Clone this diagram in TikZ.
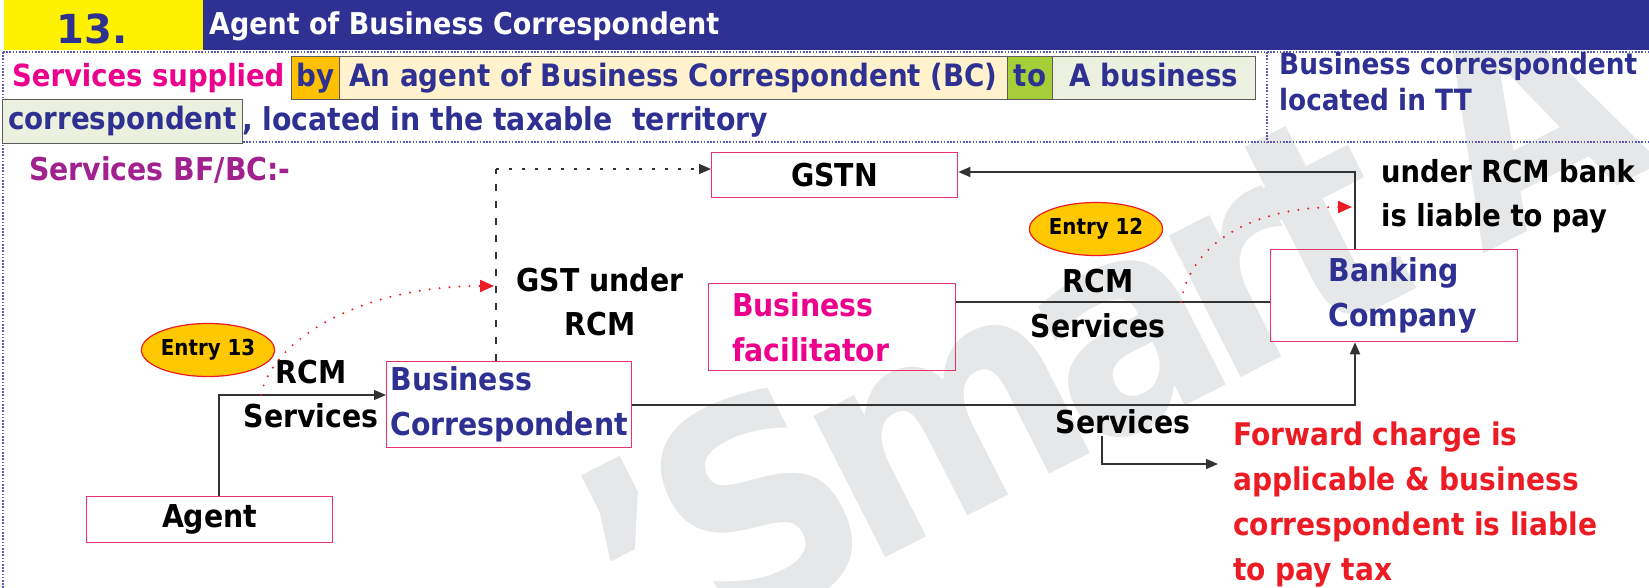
\documentclass[tikz,border=0pt]{standalone}
\usepackage{fontspec}
\usetikzlibrary{arrows.meta,shapes.geometric}
\newfontfamily\cf{DejaVu Sans Condensed}
\newfontfamily\plainf{DejaVu Sans}
\definecolor{navy}{HTML}{2E3192}
\definecolor{hdr}{HTML}{2E3192}
\definecolor{yel}{HTML}{FFF200}
\definecolor{mag}{HTML}{EC008C}
\definecolor{purp}{HTML}{A1218E}
\definecolor{rd}{HTML}{ED1C24}
\definecolor{pk}{HTML}{E6336B}
\definecolor{gold}{HTML}{FFC800}
\definecolor{byc}{HTML}{FFC000}
\definecolor{cream}{HTML}{FFF2CC}
\definecolor{toc}{HTML}{A6CE39}
\definecolor{lgreen}{HTML}{EBF1DE}
\definecolor{dotb}{HTML}{5A5AB0}
\definecolor{wm}{HTML}{E6E7E8}
\definecolor{ln}{HTML}{333333}
\begin{document}
\begin{tikzpicture}[x=1pt,y=-1pt,
  txt/.style={font=\cf\bfseries\fontsize{31.5}{45}\selectfont, inner sep=0pt},
  pbox/.style={txt, draw=pk, line width=1.3pt, inner sep=0pt, anchor=north west},
  hbox/.style={draw=ln!80, line width=1pt, inner sep=0pt, anchor=north west, font=\cf\bfseries\fontsize{30.8}{40}\selectfont, text height=24pt, text depth=7pt, text=navy},
  conn/.style={draw=ln, line width=1.3pt},
  tip/.style={-{Triangle[length=12pt,width=10pt]}},
  entry/.style={ellipse, draw=rd, line width=1.2pt, fill=gold, minimum width=116pt, minimum height=53pt, inner sep=0pt, font=\cf\bfseries\fontsize{22}{24}\selectfont},
  dotline/.style={draw=dotb, line width=1.6pt, dash pattern=on 1.6pt off 1.6pt},
  reddot/.style={draw=rd, line width=2.2pt, dash pattern=on 0pt off 10pt, line cap=round, -{Triangle[length=14pt,width=12pt,fill=rd]}}
]
\useasboundingbox (0,0) rectangle (1649,588);
\fill[white] (0,0) rectangle (1649,588);
% watermark
\begin{scope}
\clip (0,0) rectangle (1649,588);
\node[font=\cf\bfseries\fontsize{290}{290}\selectfont, text=wm, anchor=base west, inner sep=0pt, rotate=27] (wmark) at (651,678) {’\kern-20pt S\kern-25pt m\kern-25pt a\kern-25pt r\kern-25pt t\kern65pt A};
\end{scope}
% header
\node[fill=yel, anchor=north west, minimum width=199pt, minimum height=50pt, inner sep=0pt] (numbox) at (4,0) {};
\node[font=\plainf\bfseries\fontsize{40}{40}\selectfont, text=navy, anchor=base, inner sep=0pt] (num) at (92,44) {13.};
\node[fill=hdr, anchor=north west, minimum width=1446pt, minimum height=50pt, inner sep=0pt] (hbar) at (203,0) {};
\node[txt, font=\cf\bfseries\fontsize{30}{30}\selectfont, text=white, anchor=base west] (title) at (209,35) {Agent of Business Correspondent};
% dotted frame
\draw[dotline] (3,52) -- (1649,52);
\draw[dotline] (3,142) -- (1649,142);
\draw[dotline] (1267,52) -- (1267,142);
\draw[dotline] (3,52) -- (3,588);
% line 1
\node[txt, font=\cf\bfseries\fontsize{30.5}{40}\selectfont, text=mag, anchor=base west] (svcs) at (12,87) {Services supplied};
\node[hbox, fill=byc, minimum width=48pt, minimum height=43pt] (by) at (291,56) {by};
\node[hbox, fill=cream, minimum width=668pt, minimum height=43pt] (agentof) at (339,56) {An agent of Business Correspondent (BC)};
\node[hbox, fill=toc, minimum width=45pt, minimum height=43pt] (to) at (1007,56) {to};
\node[hbox, fill=lgreen, minimum width=203pt, minimum height=43pt] (abiz) at (1052,56) {A business};
% line 2
\node[hbox, fill=lgreen, minimum width=240pt, minimum height=44pt] (corr) at (2,99) {correspondent};
\node[txt, font=\cf\bfseries\fontsize{31.5}{40}\selectfont, text=navy, anchor=base west] (loc) at (242,131) {, located in the taxable\ \ territory};
\node[txt, font=\cf\bfseries\fontsize{29.3}{36}\selectfont, text=navy, anchor=base west, align=left] (bctt) at (1279,111) {Business correspondent\\located in TT};
% lower section
\node[txt, text=purp, anchor=base west] (bfbc) at (29,181) {Services BF/BC:-};
\node[pbox, minimum width=246pt, minimum height=45pt] (gstn) at (711,152) {GSTN};
\node[pbox, minimum width=245pt, minimum height=86pt, align=left, text=navy] (bc) at (386,361) {Business\\Correspondent};
\node[pbox, minimum width=247pt, minimum height=87pt, text width=200pt, align=left, text=mag] (bf) at (708,283) {Business\\facilitator};
\node[pbox, minimum width=247pt, minimum height=92pt, text width=131pt, align=left, text=navy] (bank) at (1270,249) {Banking\\Company};
\node[pbox, minimum width=246pt, minimum height=46pt] (agent) at (86,496) {Agent};
\node[entry] (e12) at (1096,229) {Entry 12};
\node[entry] (e13) at (208,350) {Entry 13};
\node[txt, font=\cf\bfseries\fontsize{31.5}{44}\selectfont, anchor=base, align=center] (gstlbl) at (600,335) {GST under\\RCM};
\node[txt, anchor=base] (rcm1) at (311,383) {RCM};
\node[txt, anchor=base] (svc1) at (311,427) {Services};
\node[txt, anchor=base] (rcm2) at (1098,292) {RCM};
\node[txt, anchor=base] (svc2) at (1098,337) {Services};
\node[txt, anchor=base] (svc3) at (1123,433) {Services};
\node[txt, font=\cf\bfseries\fontsize{30.4}{44}\selectfont, anchor=base west, align=left] (rcmbank) at (1381,227) {under RCM bank\\is liable to pay};
\node[txt, font=\cf\bfseries\fontsize{31.2}{45}\selectfont, text=rd, anchor=base west, align=left] (fwd) at (1233,580) {Forward charge is\\applicable \& business\\correspondent is liable\\to pay tax};
% connectors
\coordinate (cA) at (219,395);
\draw[conn, tip] (cA |- agent.north) -- (cA) -- (cA -| bc.west);
\coordinate (cB) at (1355,172);
\draw[conn, tip] (cB |- bank.north) -- (cB) -- (cB -| gstn.east);
\draw[conn, line width=1.8pt, tip] (bc.east) -| (cB |- bank.south);
\coordinate (cC) at (1181,302);
\draw[conn] (bf.east |- cC) -- (bank.west |- cC);
\coordinate (cD) at (496,169);
\draw[conn, dash pattern=on 7pt off 10pt] (bc.north -| cD) -- (cD);
\draw[conn, dash pattern=on 3pt off 10pt, tip] (cD) -- (cD -| gstn.west);
\coordinate (cE) at (1352,207);
\draw[reddot] (cC) .. controls (1190,245) and (1250,207) .. (cE);
\coordinate (cF) at (261,395);
\coordinate (cG) at (494,286);
\draw[reddot] (cF) .. controls (272,340) and (360,286) .. (cG);
\coordinate (cH) at (1102,436);
\coordinate (cI) at (1218,464);
\draw[conn, tip] (cH) |- (cI);
\end{tikzpicture}
\end{document}
